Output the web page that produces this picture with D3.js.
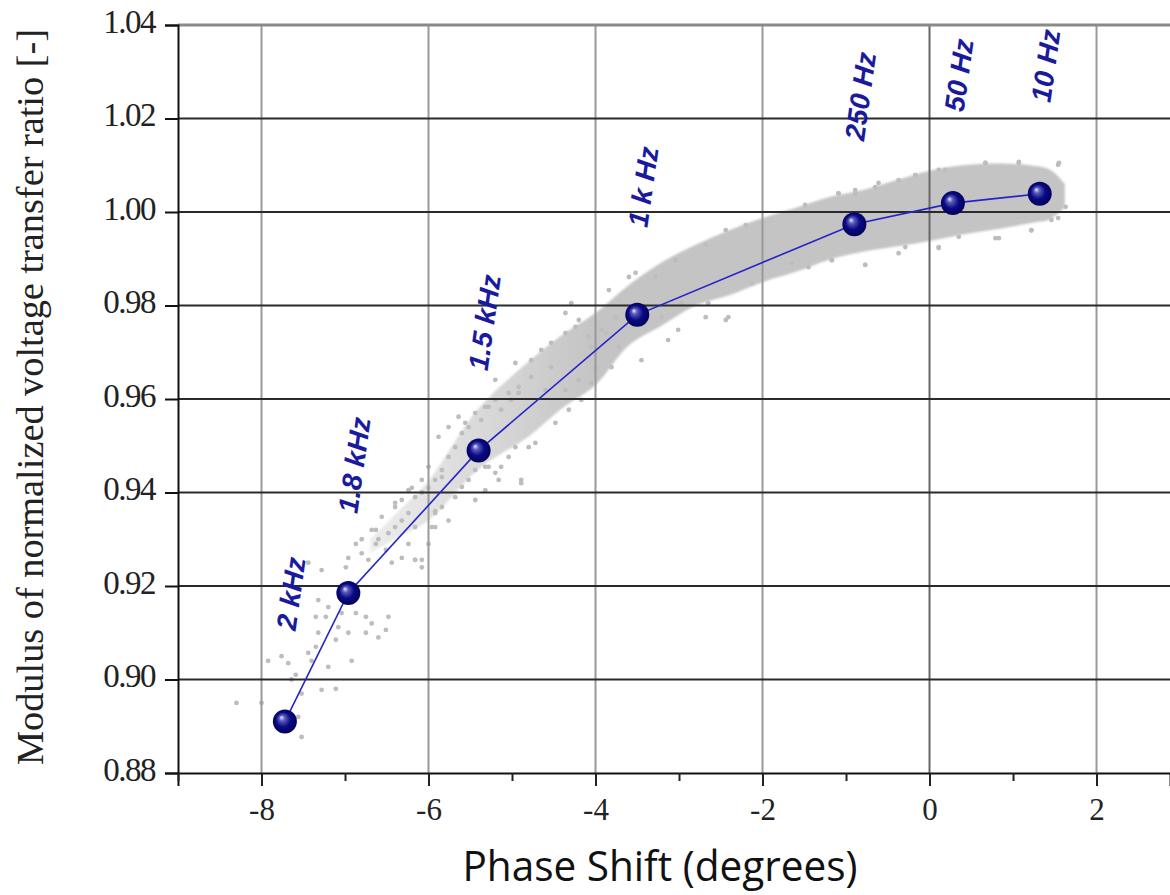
<!DOCTYPE html>
<html>
<meta charset="utf-8">
<style>
body { margin: 0; background: #fff; }
svg { display: block; }
.ytick text { font-family: "Liberation Serif", serif; font-size: 33px; fill: #222; }
.xtick text { font-family: "Liberation Serif", serif; font-size: 31px; fill: #222; }
</style>
<head>
<script src="https://cdn.jsdelivr.net/npm/d3@7"></script>
</head>
<body>
<script>
// measured points (phase shift in degrees, modulus)
var phase   = [-7.72, -6.96, -5.40, -3.50, -0.90, 0.28, 1.32];
var modulus = [0.891, 0.9185, 0.949, 0.978, 0.9974, 1.0019, 1.0039];
var freqLabels = ["2 kHz", "1.8 kHz", "1.5 kHz", "1 k Hz", "250 Hz", "50 Hz", "10 Hz"];

// dense part of the grey cloud: envelope
var bandX     = [-6.7, -6.3, -6.0, -5.4, -4.8, -4.4, -4.0, -3.6, -3.2, -2.8, -2.4, -2.0, -1.6, -1.2, -0.8, -0.4, 0.0, 0.4, 0.8, 1.2, 1.45, 1.62];
var bandUpper = [0.9300, 0.9370, 0.9425, 0.9580, 0.9680, 0.9737, 0.9784, 0.9844, 0.9893, 0.9930, 0.9961, 0.9987, 1.0009, 1.0032, 1.0047, 1.0068, 1.0088, 1.0100, 1.0104, 1.0100, 1.0090, 1.0060];
var bandLower = [0.9270, 0.9310, 0.9340, 0.9450, 0.9520, 0.9580, 0.9630, 0.9715, 0.9758, 0.9800, 0.9822, 0.9850, 0.9872, 0.9898, 0.9915, 0.9926, 0.9938, 0.9952, 0.9963, 0.9976, 0.9985, 1.0010];

// loose grey dots
var dotX = [-8.30,-8.00,-7.92,-7.76,-7.68,-7.59,-7.64,-7.44,-7.35,-7.32,-7.23,-7.20,-7.11,-7.08,-7.04,-6.87,-6.75,-6.68,-6.48,-6.92,
  -7.20,-7.11,-7.28,-7.52,-7.56,-7.52,-7.40,-7.28,-7.44,-7.32,-6.99,-6.96,-6.87,-6.80,-6.68,-6.60,-6.80,-6.72,-6.51,-6.44,
  -6.32,-6.24,-6.16,-6.24,-6.32,-6.40,-6.48,-6.16,-6.08,-6.00,-5.92,-6.00,-6.08,-6.20,-6.40,-6.56,-6.63,-5.84,-5.92,-6.60,
  -6.51,-6.75,-6.96,-7.35,-6.63,-6.40,-6.32,-6.24,-6.16,-6.08,-6.00,-5.92,-5.84,-5.76,-5.68,-5.60,-5.52,-5.37,-5.28,-5.20,
  -5.04,-4.92,-5.92,-5.84,-5.76,-5.68,-5.60,-5.52,-5.44,-5.28,-5.20,-5.13,-5.04,-4.96,-4.89,-4.80,-5.32,-5.44,-5.96,-6.08,
  -6.16,-5.88,-5.76,-5.64,-5.56,-5.44,-5.32,-5.20,-4.96,-4.77,-4.65,-4.53,-4.36,-4.20,-4.20,-4.05,-4.32,-4.48,-4.72,-4.89,
  -5.16,-5.32,-4.92,-4.60,-4.36,-4.17,-4.00,-3.81,-3.72,-3.88,-4.05,-4.53,-4.77,-5.01,-5.13,-4.29,-4.36,-4.24,-4.08,-3.84,
  -3.60,-3.52,-3.28,-2.97,-2.65,-2.44,-2.68,-3.01,-3.45,-3.13,-3.21,-3.76,-3.93,-0.17,0.11,0.67,1.07,1.54,-0.77,-0.29,
  0.11,0.79,1.22,1.54,-0.61,-0.89,-1.09,-1.49,-1.17,-1.65,-2.13,-2.41,-3.04,-2.44,-2.20,-2.68,
  -1.09,-0.89,-0.65,-0.37,-0.17,0.19,0.67,1.07,1.55,1.63,1.46,1.22,0.83,0.35,0.11,-0.37,-0.77,-1.17,-1.45];
var dotY = [0.895,0.895,0.904,0.905,0.9035,0.901,0.900,0.9057,0.907,0.910,0.9134,0.9155,0.9085,0.9112,0.9142,0.9142,0.9134,0.912,0.9134,0.904,
  0.9027,0.898,0.8978,0.897,0.892,0.8877,0.904,0.9234,0.925,0.917,0.924,0.926,0.929,0.930,0.932,0.930,0.927,0.9256,0.9277,0.925,
  0.926,0.929,0.9326,0.9356,0.9384,0.9326,0.9313,0.9256,0.924,0.929,0.936,0.941,0.940,0.941,0.9378,0.9348,0.929,0.9433,0.9326,0.909,
  0.9106,0.910,0.910,0.9134,0.932,0.9369,0.934,0.9405,0.939,0.9427,0.9455,0.9427,0.9448,0.9476,0.9497,0.9527,0.954,0.9555,0.9583,0.9598,
  0.9613,0.9626,0.9356,0.9369,0.934,0.939,0.9412,0.9427,0.9448,0.9455,0.9442,0.9455,0.9476,0.9497,0.9427,0.9497,0.9405,0.9384,0.9326,0.9256,
  0.9256,0.9519,0.954,0.9562,0.9549,0.957,0.9583,0.9641,0.9677,0.9683,0.9705,0.972,0.9741,0.9769,0.9641,0.9634,0.9577,0.9549,0.9506,0.942,
  0.9427,0.9455,0.9613,0.9619,0.9619,0.9598,0.9668,0.9668,0.9711,0.9741,0.9711,0.9668,0.9647,0.9598,0.9577,0.9805,0.9784,0.9754,0.9733,0.9833,
  0.9861,0.987,0.9861,0.9805,0.9805,0.9769,0.9775,0.9748,0.9683,0.9726,0.9775,0.9775,0.9748,1.0079,1.009,1.0105,1.0105,1.0101,0.9887,0.9925,
  0.9923,0.9944,0.9961,0.9987,1.0062,1.004,1.004,1.0015,0.9897,0.989,0.9848,0.9775,0.9897,0.9961,0.9972,0.993,
  1.004,1.0047,1.0053,1.0068,1.0079,1.009,1.0105,1.0107,1.0105,1.0011,0.9983,0.9961,0.9944,0.9947,0.9925,0.9912,0.9887,0.9897,0.9882];

var xTicks = [-8, -6, -4, -2, 0, 2];
var xMinor = [-9, -7, -5, -3, -1, 1];
var yTicks = [0.88, 0.90, 0.92, 0.94, 0.96, 0.98, 1.00, 1.02, 1.04];

var W = 1170, H = 895;
var padLeft = 178, padTop = 25, axisY = 773;

var svg = d3.select("body").append("svg")
  .attr("width", W)
  .attr("height", H);

var x = d3.scaleLinear().domain([-9, 2.88]).range([padLeft, W]);
var y = d3.scaleLinear().domain([0.88, 1.04]).range([axisY, padTop]);

var defs = svg.append("defs");
var grad = defs.append("radialGradient")
  .attr("id", "ball")
  .attr("cx", "50%").attr("cy", "50%").attr("r", "55%")
  .attr("fx", "35%").attr("fy", "32%");
grad.append("stop").attr("offset", "0%").attr("stop-color", "#e8e8ff");
grad.append("stop").attr("offset", "22%").attr("stop-color", "#5a5ab8");
grad.append("stop").attr("offset", "55%").attr("stop-color", "#0a0a86");
grad.append("stop").attr("offset", "100%").attr("stop-color", "#000050");

// cloud gets thinner towards the high-frequency end
var fade = defs.append("linearGradient")
  .attr("id", "fade")
  .attr("gradientUnits", "userSpaceOnUse")
  .attr("x1", x(-6.7)).attr("x2", x(-4.0))
  .attr("y1", 0).attr("y2", 0);
fade.append("stop").attr("offset", "0%").attr("stop-color", "#c4c4c4").attr("stop-opacity", 0.3);
fade.append("stop").attr("offset", "100%").attr("stop-color", "#c4c4c4").attr("stop-opacity", 1);

defs.append("filter").attr("id", "soft")
  .append("feGaussianBlur").attr("stdDeviation", 1.2);

// grey cloud
var band = bandX.map(function(d, i){ return {x: d, lo: bandLower[i], hi: bandUpper[i]}; });
svg.append("path")
  .datum(band)
  .attr("fill", "url(#fade)")
  .attr("filter", "url(#soft)")
  .attr("d", d3.area()
    .curve(d3.curveCatmullRom)
    .x(function(d){ return x(d.x); })
    .y0(function(d){ return y(d.lo); })
    .y1(function(d){ return y(d.hi); }));

svg.append("g").selectAll("circle")
  .data(dotX)
  .enter().append("circle")
  .attr("cx", function(d){ return x(d); })
  .attr("cy", function(d, i){ return y(dotY[i]); })
  .attr("r", 2.4)
  .attr("fill", "#bdbdbd");

// grid
var grid = svg.append("g");
grid.selectAll("line.v")
  .data(xTicks)
  .enter().append("line")
  .attr("x1", function(d){ return x(d); })
  .attr("x2", function(d){ return x(d); })
  .attr("y1", padTop).attr("y2", axisY)
  .attr("stroke", function(d){ return d == 0 ? "#666" : "#999"; })
  .attr("stroke-width", 2);

grid.selectAll("line.h")
  .data(yTicks.filter(function(d){ return d > 0.881; }))
  .enter().append("line")
  .attr("x1", padLeft).attr("x2", W)
  .attr("y1", function(d){ return y(d); })
  .attr("y2", function(d){ return y(d); })
  .attr("stroke", function(d){ return d > 1.03 ? "#8a8a8a" : "#2a2a2a"; })
  .attr("stroke-width", function(d){ return d > 1.03 ? 3 : 2; });

// axes
var yAxis = svg.append("g")
  .attr("class", "ytick")
  .attr("transform", "translate(" + padLeft + ",0)")
  .call(d3.axisLeft(y).tickValues(yTicks).tickFormat(d3.format(".2f")).tickSize(13).tickPadding(10));
yAxis.select(".domain").attr("stroke", "#111").attr("stroke-width", 2);
yAxis.selectAll(".tick line").attr("stroke", "#111").attr("stroke-width", 2);
yAxis.selectAll("text").attr("dy", "0.22em").attr("letter-spacing", "-1.5");

var xAxis = svg.append("g")
  .attr("class", "xtick")
  .attr("transform", "translate(0," + axisY + ")")
  .call(d3.axisBottom(x).tickValues(xTicks).tickFormat(d3.format("d")).tickSize(13).tickPadding(12));
xAxis.select(".domain").attr("stroke", "#111").attr("stroke-width", 2);
xAxis.selectAll(".tick line").attr("stroke", "#222").attr("stroke-width", 2);
xAxis.selectAll("text").text(function(d){ return d < 0 ? "-" + Math.abs(d) : d; });

// minor ticks at odd degrees
var minor = svg.append("g")
  .attr("transform", "translate(0," + axisY + ")")
  .call(d3.axisBottom(x).tickValues(xMinor).tickSize(8).tickFormat(""));
minor.select(".domain").remove();
minor.selectAll(".tick line").attr("stroke", "#222").attr("stroke-width", 2);

// measurement line and balls
var pts = phase.map(function(d, i){ return {x: d, y: modulus[i], label: freqLabels[i]}; });

svg.append("path")
  .datum(pts)
  .attr("fill", "none")
  .attr("stroke", "#2424c8")
  .attr("stroke-width", 1.6)
  .attr("d", d3.line()
    .x(function(d){ return x(d.x); })
    .y(function(d){ return y(d.y); }));

svg.append("g").selectAll("circle")
  .data(pts)
  .enter().append("circle")
  .attr("cx", function(d){ return x(d.x); })
  .attr("cy", function(d){ return y(d.y); })
  .attr("r", 12)
  .attr("fill", "url(#ball)");

svg.append("g").selectAll("text")
  .data(pts)
  .enter().append("text")
  .attr("transform", function(d){
    return "translate(" + (x(d.x) + 6) + "," + (y(d.y) - 128) + ") rotate(-82)";
  })
  .attr("text-anchor", "middle")
  .attr("dy", "0.35em")
  .attr("font-family", "'Liberation Sans', Arial, sans-serif")
  .attr("font-weight", "bold")
  .attr("font-style", "italic")
  .attr("font-size", 28)
  .attr("fill", "#1a1a9e")
  .text(function(d){ return d.label; });

// axis titles
svg.append("text")
  .attr("transform", "translate(43,397) rotate(-90)")
  .attr("text-anchor", "middle")
  .attr("font-family", "'Liberation Serif', serif")
  .attr("font-size", 37)
  .attr("fill", "#222")
  .attr("textLength", 736)
  .attr("lengthAdjust", "spacingAndGlyphs")
  .text("Modulus of normalized voltage transfer ratio [-]");

svg.append("text")
  .attr("x", 660)
  .attr("y", 881)
  .attr("text-anchor", "middle")
  .attr("font-family", "'Open Sans', sans-serif")
  .attr("font-size", 42)
  .attr("fill", "#111")
  .attr("textLength", 395)
  .attr("lengthAdjust", "spacingAndGlyphs")
  .text("Phase Shift (degrees)");
</script>
</body>
</html>
